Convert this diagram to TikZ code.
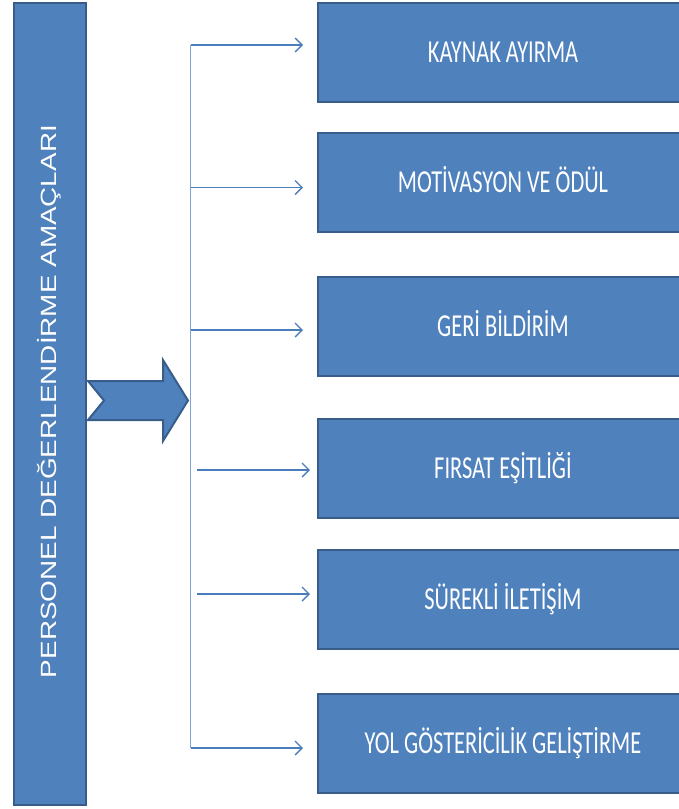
\documentclass[tikz,border=0pt]{standalone}
\usepackage{fontspec}
\usepackage{graphicx}
\setmainfont{Carlito}
\newfontfamily\barfont{Liberation Sans}
\usetikzlibrary{arrows.meta}
\definecolor{boxfill}{HTML}{4F81BD}
\definecolor{boxline}{HTML}{385D8A}
\definecolor{linkcol}{HTML}{4A7EBB}
\definecolor{vlinecol}{HTML}{7FA3D3}
\newcommand\narrowtxt[1]{\scalebox{0.70}[1]{#1}}
\tikzset{
  goalbox/.style={draw=boxline, line width=2pt, fill=boxfill,
    minimum width=370pt, minimum height=99pt, anchor=north west,
    inner sep=0pt, text=white, font=\fontsize{32}{32}\selectfont,
    text height=20pt, text depth=0pt},
  barbox/.style={draw=boxline, line width=2pt, fill=boxfill,
    minimum width=72pt, minimum height=802pt, anchor=north west, inner sep=0pt},
  bartxt/.style={rotate=90, text=white, inner sep=0pt,
    font=\barfont\fontsize{22}{22}\selectfont, text height=15.5pt, text depth=0pt},
  link/.style={draw=linkcol, line width=1.4pt,
    -{Straight Barb[length=7pt,width=14pt,line width=1.4pt]}},
  vline/.style={draw=vlinecol, line width=1.2pt},
  bigarrow/.style={draw=boxline, line width=2pt, fill=boxfill, line join=miter}
}
\begin{document}
\begin{tikzpicture}[x=1pt,y=-1pt]
\useasboundingbox (0,0) rectangle (678,809);
% left bar
\node[barbox] (bar) at (12.5,1.5) {};
\node[bartxt] (bartext) at (48.5,401.5) {\resizebox{553pt}{\height}{PERSONEL DEĞERLENDİRME AMAÇLARI}};
% notched arrow
\path[bigarrow] (88,381) -- (163,381) -- (163,360) -- (188,400.5) -- (163,441)
  -- (163,420) -- (88,420) -- (104,400.5) -- cycle;
% goal boxes
\node[goalbox] (b1) at (317,1.5) {\narrowtxt{KAYNAK AYIRMA}};
\node[goalbox] (b2) at (317,132) {\narrowtxt{MOTİVASYON VE ÖDÜL}};
\node[goalbox] (b3) at (317,275.5) {\narrowtxt{GERİ BİLDİRİM}};
\node[goalbox] (b4) at (317,417.5) {\narrowtxt{FIRSAT EŞİTLİĞİ}};
\node[goalbox] (b5) at (317,549) {\narrowtxt{SÜREKLİ İLETİŞİM}};
\node[goalbox] (b6) at (317,692.5) {\narrowtxt{YOL GÖSTERİCİLİK GELİŞTİRME}};
% connectors
\coordinate (vtop) at (190.5,45);
\coordinate (vbot) at (190.5,748);
\coordinate (v2) at (190.5,187.5);
\coordinate (v3) at (190.5,330);
\coordinate (s4) at (197,470);
\coordinate (s5) at (197,594);
\draw[vline] (vtop) -- (vbot);
\draw[link, shorten >=14pt] (vtop) -- (vtop -| b1.west);
\draw[link, shorten >=14pt] (v2) -- (v2 -| b2.west);
\draw[link, shorten >=14pt] (v3) -- (v3 -| b3.west);
\draw[link, shorten >=7pt] (s4) -- (s4 -| b4.west);
\draw[link, shorten >=7pt] (s5) -- (s5 -| b5.west);
\draw[link, shorten >=14pt] (vbot) -- (vbot -| b6.west);
\end{tikzpicture}
\end{document}
